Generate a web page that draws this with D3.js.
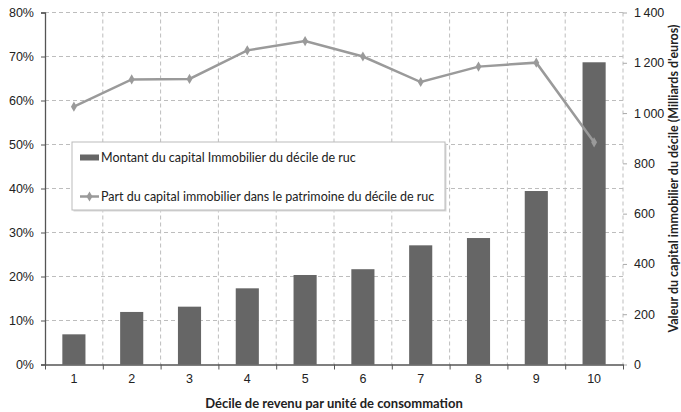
<!DOCTYPE html>
<html>
<head>
<meta charset="utf-8">
<script src="https://cdn.jsdelivr.net/npm/d3@7"></script>
<style>
  body { margin: 0; background: #fff; }
  svg { font-family: Lato, "Open Sans", sans-serif; }
  .grid line { stroke: #bdbdbd; stroke-dasharray: 4,3; }
</style>
</head>
<body>
<div id="chart"></div>
<script>
const deciles = ["1", "2", "3", "4", "5", "6", "7", "8", "9", "10"];
const montant = [120, 209, 230, 303, 356, 379, 474, 503, 690, 1202];
const part = [0.586, 0.648, 0.649, 0.714, 0.735, 0.700, 0.642, 0.677, 0.686, 0.505];
const pctTicks = [0, 0.1, 0.2, 0.3, 0.4, 0.5, 0.6, 0.7, 0.8];
const valTicks = [0, 200, 400, 600, 800, 1000, 1200, 1400];

const labelBars = "Montant du capital Immobilier du décile de ruc";
const labelLine = "Part du capital immobilier dans le patrimoine du décile de ruc";
const xTitle = "Décile de revenu par unité de consommation";
const yRightTitle = "Valeur du capital immobilier du décile (Milliards d'euros)";

const drawChart = function(){
    const totalW = 681, totalH = 412;
    const margin = { top: 12.5, right: 58, bottom: 47.5, left: 45 };
    const width = totalW - margin.left - margin.right;
    const height = totalH - margin.top - margin.bottom;

    const svg = d3.select("#chart")
        .append("svg")
        .attr("width", totalW)
        .attr("height", totalH);

    const g = svg.append("g")
        .attr("transform", `translate(${margin.left},${margin.top})`);

    const xBand = d3.scaleBand()
        .domain(deciles)
        .range([0, width])
        .paddingInner(0.6)
        .paddingOuter(0.3);

    const xEdge = d3.scaleLinear()
        .domain([0, deciles.length])
        .range([0, width]);

    const yLeft = d3.scaleLinear().domain([0, 0.8]).range([height, 0]);
    const yRight = d3.scaleLinear().domain([0, 1400]).range([height, 0]);

    // grid
    g.append("g").attr("class", "grid")
        .selectAll("line")
        .data(pctTicks.slice(1))
        .enter().append("line")
        .attr("x1", 0).attr("x2", width)
        .attr("y1", d => yLeft(d)).attr("y2", d => yLeft(d));

    g.append("g").attr("class", "grid")
        .selectAll("line")
        .data(d3.range(1, deciles.length + 1))
        .enter().append("line")
        .attr("x1", d => xEdge(d)).attr("x2", d => xEdge(d))
        .attr("y1", 0).attr("y2", height);

    // bars
    g.selectAll(".bar")
        .data(deciles)
        .enter().append("rect")
        .attr("class", "bar")
        .attr("x", d => xBand(d))
        .attr("width", xBand.bandwidth())
        .attr("y", (d, i) => yRight(montant[i]))
        .attr("height", (d, i) => height - yRight(montant[i]))
        .attr("fill", "#666666");

    // line
    const line = d3.line()
        .x((d, i) => xBand(deciles[i]) + xBand.bandwidth() / 2)
        .y(d => yLeft(d));

    g.append("path")
        .datum(part)
        .attr("d", line)
        .attr("fill", "none")
        .attr("stroke", "#9a9a9a")
        .attr("stroke-width", 2.5);

    const diamond = d3.symbol().type(d3.symbolDiamond).size(30);
    g.selectAll(".pt")
        .data(part)
        .enter().append("path")
        .attr("class", "pt")
        .attr("d", diamond)
        .attr("transform", (d, i) => `translate(${xBand(deciles[i]) + xBand.bandwidth() / 2},${yLeft(d)})`)
        .attr("fill", "#9a9a9a");

    // left axis
    const leftAxis = g.append("g")
        .call(d3.axisLeft(yLeft).tickValues(pctTicks).tickFormat(d3.format(".0%")).tickSize(4).tickPadding(7));
    leftAxis.select(".domain").attr("stroke", "#555").attr("stroke-width", 1.3);
    leftAxis.selectAll(".tick line").attr("stroke", "#555");
    leftAxis.selectAll("text").attr("font-size", 12.5).attr("fill", "#222");

    // right axis
    const fr = d3.formatLocale({ decimal: ",", thousands: "\u202f", grouping: [3], currency: ["", "€"] });
    const rightAxis = g.append("g")
        .attr("transform", `translate(${width},0)`)
        .call(d3.axisRight(yRight).tickValues(valTicks).tickFormat(fr.format(",")).tickSize(4).tickPadding(7));
    rightAxis.select(".domain").remove();
    rightAxis.selectAll(".tick line").attr("stroke", "#aaa");
    rightAxis.selectAll("text").attr("font-size", 12.5).attr("fill", "#222");

    // bottom axis
    const edgeAxis = g.append("g")
        .attr("transform", `translate(0,${height})`)
        .call(d3.axisBottom(xEdge).tickValues(d3.range(0, deciles.length + 1)).tickFormat("").tickSize(5).tickSizeOuter(0));
    edgeAxis.select(".domain").attr("stroke", "#555").attr("stroke-width", 1.3);
    edgeAxis.selectAll(".tick line").attr("stroke", "#555");

    const labelAxis = g.append("g")
        .attr("transform", `translate(0,${height})`)
        .call(d3.axisBottom(xBand).tickSize(0).tickPadding(10));
    labelAxis.select(".domain").remove();
    labelAxis.selectAll("text").attr("font-size", 12.5).attr("fill", "#222");

    // titles
    g.append("text")
        .attr("x", width / 2)
        .attr("y", height + 43)
        .attr("text-anchor", "middle")
        .attr("font-size", 13)
        .attr("font-weight", "bold")
        .attr("fill", "#222")
        .text(xTitle);

    svg.append("text")
        .attr("transform", `translate(${totalW - 3},${margin.top + 166}) rotate(-90)`)
        .attr("text-anchor", "middle")
        .attr("font-size", 12.5)
        .attr("font-weight", "bold")
        .attr("fill", "#222")
        .text(yRightTitle);

    // legend
    const legend = svg.append("g").attr("transform", "translate(72,142)");
    legend.append("rect")
        .attr("x", 1.5).attr("y", 1.5)
        .attr("width", 373).attr("height", 68)
        .attr("fill", "#d8d8d8");
    legend.append("rect")
        .attr("width", 373).attr("height", 68)
        .attr("fill", "#fff")
        .attr("stroke", "#bbb");

    legend.append("rect")
        .attr("x", 8).attr("y", 12.5)
        .attr("width", 19).attr("height", 6)
        .attr("fill", "#666666");
    legend.append("text")
        .attr("x", 29).attr("y", 20)
        .attr("font-size", 12.5)
        .attr("fill", "#222")
        .text(labelBars);

    legend.append("line")
        .attr("x1", 8).attr("x2", 27)
        .attr("y1", 54.5).attr("y2", 54.5)
        .attr("stroke", "#9a9a9a")
        .attr("stroke-width", 2.5);
    legend.append("path")
        .attr("d", diamond)
        .attr("transform", "translate(17.5,54.5)")
        .attr("fill", "#9a9a9a");
    legend.append("text")
        .attr("x", 29).attr("y", 59)
        .attr("font-size", 12.5)
        .attr("fill", "#222")
        .text(labelLine);
}

window.onload = function(){
    drawChart();
}
</script>
</body>
</html>
